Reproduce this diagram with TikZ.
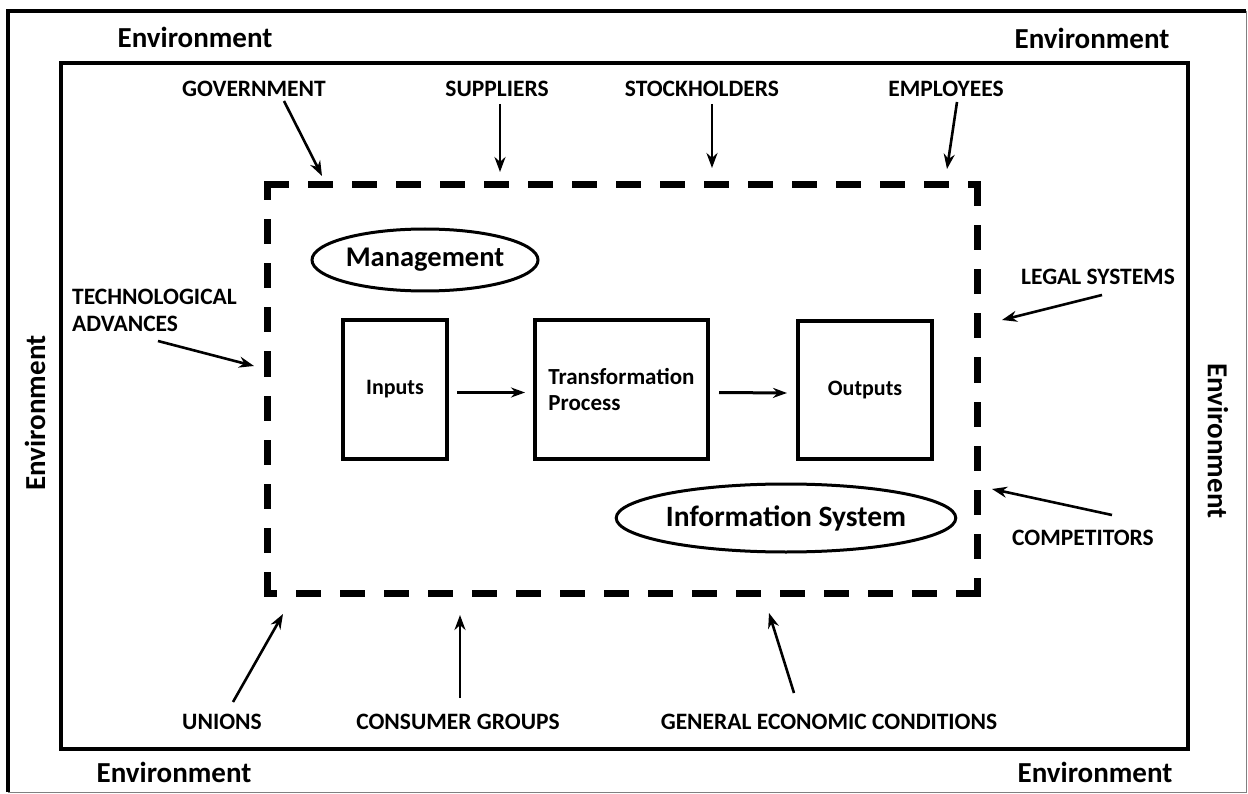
\documentclass[tikz,border=0pt]{standalone}
\usepackage{fontspec}
\setmainfont{Carlito}
\usetikzlibrary{arrows.meta,shapes.geometric}
\begin{document}
\begin{tikzpicture}[x=1pt,y=-1pt,
  env/.style={font=\fontsize{29}{32}\selectfont\bfseries, inner sep=0},
  lbl/.style={font=\fontsize{23.5}{27}\selectfont\bfseries, inner sep=0},
  arr/.style={line width=2.6pt, -{Stealth[length=15pt,width=11pt]}},
  flow/.style={line width=3pt, -{Stealth[length=14pt,width=10pt]}},
  box/.style={draw, line width=4pt, inner sep=0, font=\fontsize{22}{26}\selectfont\bfseries},
  oval/.style={draw, ellipse, line width=3pt, inner sep=0},
  sysdash/.style={line width=7pt, line cap=rect, dash pattern=on 18pt off 26pt}]
\useasboundingbox (0,0) rectangle (1248,794);
% outer frame
\draw[line width=4pt] (8,792) -- (8,11) -- (1246,11);
\draw[gray, line width=1pt] (1246,11) -- (1246,792) -- (8,792);
% inner frame
\draw[line width=4pt] (61,63) rectangle (1188,749);
% environment labels
\node[env] (envtl) at (195,37) {Environment};
\node[env] (envtr) at (1092,38) {Environment};
\node[env] (envbl) at (174,772) {Environment};
\node[env] (envbr) at (1095,772) {Environment};
\node[env, rotate=90] (envl) at (35,413) {Environment};
\node[env, rotate=-90] (envr) at (1218,441) {Environment};
% dashed system boundary
\coordinate (c1) at (267,185);
\coordinate (c2) at (977,185);
\coordinate (c3) at (977,593);
\coordinate (c4) at (267,593);
\draw[sysdash] (c1) -- (c2);
\draw[sysdash] (c2) -- (c3);
\draw[sysdash] (c3) -- (c4);
\draw[sysdash] (c4) -- (c1);
% ellipses
\node[oval, minimum width=226pt, minimum height=62pt, font=\fontsize{28.5}{30}\selectfont\bfseries] (mgmt) at (425,260) {Management};
\node[oval, minimum width=296pt, minimum height=68pt, font=\fontsize{29.5}{30}\selectfont\bfseries] (info) at (786,518) {Information System};
% boxes
\node[box, minimum width=104pt, minimum height=139pt] (in) at (395,389.5) {Inputs};
\node[box, minimum width=173pt, minimum height=139pt, align=left, font=\fontsize{23}{26}\selectfont\bfseries] (tp) at (621.5,389.5) {Transformation\\Process};
\node[box, minimum width=134pt, minimum height=138pt] (out) at (865,390) {Outputs};
\draw[flow] ([xshift=8pt,yshift=-3pt]in.east) -- ([xshift=-8pt,yshift=-3pt]tp.west);
\draw[flow] ([xshift=9pt,yshift=-3pt]tp.east) -- ([xshift=-9pt,yshift=-3pt]out.west);
% external labels
\node[lbl] (gov) at (254,89) {GOVERNMENT};
\node[lbl] (sup) at (497,89) {SUPPLIERS};
\node[lbl] (stk) at (702,89) {STOCKHOLDERS};
\node[lbl] (emp) at (946,89) {EMPLOYEES};
\node[lbl, align=left, anchor=west] (tech) at (72,310) {TECHNOLOGICAL\\ADVANCES};
\node[lbl] (leg) at (1098,277) {LEGAL SYSTEMS};
\node[lbl] (comp) at (1083,538) {COMPETITORS};
\node[lbl] (uni) at (222,722) {UNIONS};
\node[lbl] (cons) at (458,722) {CONSUMER GROUPS};
\node[lbl] (gen) at (829,722) {GENERAL ECONOMIC CONDITIONS};
% arrow endpoints
\coordinate (govA) at (284,101);  \coordinate (govB) at (322,176);
\coordinate (supA) at (500,104);  \coordinate (supB) at (500,172);
\coordinate (stkA) at (712,104);  \coordinate (stkB) at (712,168);
\coordinate (empA) at (957,102);  \coordinate (empB) at (947,169);
\coordinate (techA) at (158,341); \coordinate (techB) at (254,366);
\coordinate (legA) at (1102,295); \coordinate (legB) at (1002,320);
\coordinate (compA) at (1112,515); \coordinate (compB) at (992,489);
\coordinate (uniA) at (233,702);  \coordinate (uniB) at (283,614);
\coordinate (consA) at (460,698); \coordinate (consB) at (460,615);
\coordinate (genA) at (794,693);  \coordinate (genB) at (769,613);
\foreach \p in {gov,sup,stk,emp,tech,leg,comp,uni,cons,gen}
  \draw[arr] (\p A) -- (\p B);
\end{tikzpicture}
\end{document}
